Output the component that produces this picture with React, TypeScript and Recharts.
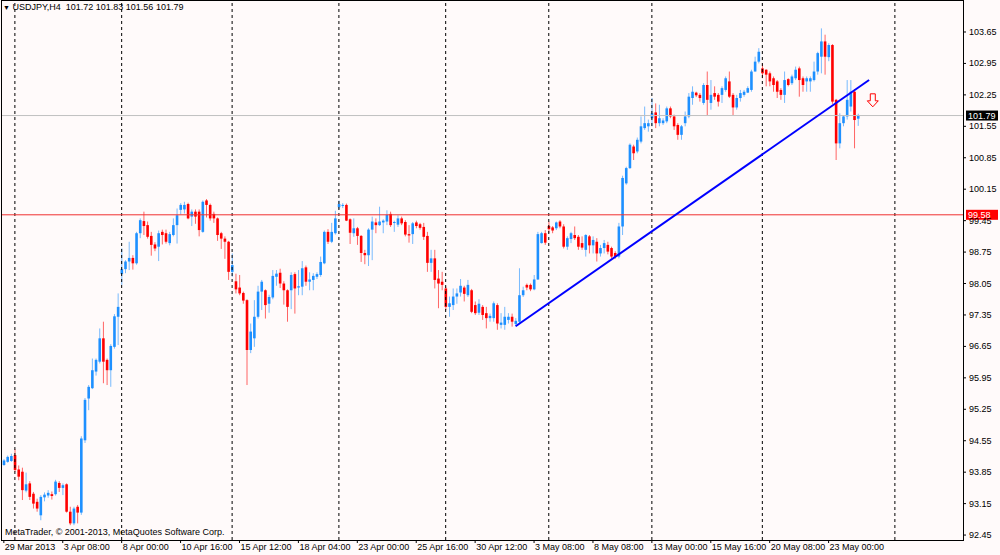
import React from 'react';
import { ComposedChart, Bar, XAxis, YAxis, ReferenceLine, ReferenceDot } from 'recharts';

// USDJPY H4, one entry per candle (29 Mar 2013 .. 23 May 2013)
const opens = [
  94.01, 94.08, 94.10, 94.23, 93.91, 93.86, 93.44, 93.60, 93.37, 93.19, 92.89, 93.29, 93.33, 93.36, 93.36, 93.61,
  93.50, 93.58, 92.97, 92.71, 93.08, 92.95, 94.56, 95.49, 95.72, 96.09, 96.31, 96.83, 96.35, 96.12, 96.64, 97.31,
  98.26, 98.37, 98.54, 98.62, 98.50, 99.17, 99.44, 99.35, 99.11, 98.92, 98.87, 99.20, 99.17, 98.95, 99.13, 99.35,
  99.69, 99.70, 99.82, 99.54, 99.65, 99.65, 99.20, 99.90, 99.80, 99.60, 99.50, 99.17, 99.05, 98.98, 98.31, 98.10,
  97.96, 97.84, 97.68, 96.57, 96.83, 97.31, 97.87, 97.90, 97.60, 97.74, 98.20, 98.29, 98.05, 97.90, 97.90, 98.26,
  97.96, 97.98, 98.41, 98.09, 98.13, 98.20, 98.24, 98.50, 99.20, 98.98, 99.17, 99.75, 99.78, 99.80, 99.48, 99.17,
  99.28, 99.11, 98.73, 98.68, 99.25, 99.41, 99.35, 99.41, 99.43, 99.60, 99.40, 99.36, 99.50, 99.42, 99.15, 99.15,
  99.41, 99.37, 99.31, 99.11, 98.51, 98.61, 98.16, 98.09, 97.94, 97.53, 97.57, 97.76, 97.85, 97.96, 97.79, 97.90,
  97.57, 97.40, 97.53, 97.39, 97.28, 97.28, 97.57, 97.13, 97.13, 97.24, 97.31, 97.15, 97.20, 97.79, 98.02, 98.02,
  97.92, 98.14, 98.95, 99.17, 99.33, 99.30, 99.28, 99.43, 99.32, 98.87, 99.04, 99.13, 99.09, 98.95, 98.80, 99.10,
  98.90, 98.98, 98.72, 98.84, 98.91, 98.84, 98.73, 98.65, 99.32, 100.28, 100.62, 101.10, 100.99, 101.21, 101.51, 101.55,
  101.73, 101.86, 101.62, 101.62, 101.66, 101.95, 101.77, 101.58, 101.36, 101.62, 101.77, 102.18, 102.30, 102.25, 102.07, 102.47,
  102.07, 102.29, 102.25, 102.25, 102.36, 102.55, 102.25, 101.97, 102.18, 102.25, 102.30, 102.36, 102.77, 102.99, 102.84, 102.81,
  102.73, 102.62, 102.55, 102.36, 102.25, 102.60, 102.51, 102.62, 102.84, 102.62, 102.55, 102.55, 102.58, 102.77, 103.10, 103.44,
  103.09, 103.36, 102.14, 101.17, 101.62, 101.77, 101.99, 102.32, 101.72,
];
const highs = [
  94.14, 94.22, 94.26, 94.36, 94.00, 93.95, 93.84, 93.65, 93.41, 93.26, 93.34, 93.40, 93.45, 93.42, 93.68, 93.65,
  93.60, 93.60, 93.08, 93.08, 93.12, 94.65, 95.50, 95.79, 96.38, 96.38, 97.05, 97.20, 96.38, 96.70, 97.37, 97.83,
  98.83, 98.57, 98.98, 98.68, 99.20, 99.50, 99.65, 99.43, 99.20, 98.97, 99.23, 99.25, 99.25, 99.20, 99.50, 99.72,
  99.84, 99.87, 99.85, 99.70, 99.70, 99.70, 99.90, 99.93, 99.83, 99.65, 99.52, 99.20, 99.10, 99.00, 98.72, 98.27,
  98.24, 97.87, 97.70, 97.16, 97.68, 98.00, 98.13, 97.92, 97.80, 98.35, 98.35, 98.38, 98.10, 97.92, 98.30, 98.30,
  98.35, 98.55, 98.45, 98.30, 98.28, 98.30, 98.65, 99.23, 99.26, 99.40, 99.67, 99.90, 99.84, 99.83, 99.50, 99.50,
  99.31, 99.13, 98.80, 99.28, 99.54, 99.50, 99.76, 99.48, 99.68, 99.65, 99.45, 99.57, 99.54, 99.46, 99.35, 99.42,
  99.45, 99.40, 99.40, 99.20, 98.80, 98.80, 98.35, 98.31, 97.98, 97.76, 97.94, 97.94, 98.15, 98.00, 98.13, 97.93,
  97.65, 97.70, 97.57, 97.53, 97.38, 97.65, 97.61, 97.39, 97.53, 97.39, 97.38, 97.28, 98.39, 97.98, 98.05, 98.05,
  98.24, 99.20, 99.20, 99.24, 99.43, 99.33, 99.43, 99.46, 99.37, 99.10, 99.20, 99.32, 99.13, 99.10, 99.15, 99.13,
  99.10, 99.06, 98.91, 99.02, 98.98, 98.87, 98.77, 99.40, 100.45, 100.65, 101.17, 101.14, 101.30, 101.77, 101.99, 101.70,
  102.18, 102.06, 102.03, 101.73, 101.99, 101.99, 101.81, 101.62, 101.58, 101.88, 102.29, 102.44, 102.32, 102.29, 102.51, 102.77,
  102.58, 102.44, 102.29, 102.44, 102.66, 102.77, 102.29, 102.25, 102.36, 102.36, 102.44, 102.81, 103.10, 103.29, 102.95, 102.82,
  102.77, 102.66, 102.58, 102.40, 102.77, 102.62, 102.70, 102.88, 102.88, 102.66, 102.66, 102.66, 102.99, 103.21, 103.73, 103.59,
  103.40, 103.38, 102.16, 101.84, 101.80, 102.58, 102.58, 102.38, 101.83,
];
const lows = [
  93.99, 94.06, 94.08, 93.86, 93.67, 93.23, 93.40, 93.23, 93.04, 92.97, 92.78, 93.20, 93.28, 93.24, 93.33, 93.41,
  93.34, 92.95, 92.67, 92.67, 92.71, 92.90, 94.50, 95.23, 95.70, 96.00, 96.27, 95.83, 95.79, 95.75, 96.60, 96.68,
  98.02, 98.28, 98.35, 98.36, 98.47, 99.06, 99.13, 99.05, 98.67, 98.77, 98.55, 98.92, 98.94, 98.90, 99.10, 98.94,
  99.59, 99.61, 99.48, 99.33, 99.38, 99.10, 99.18, 99.52, 99.45, 99.40, 99.00, 98.82, 98.60, 98.13, 98.20, 97.83,
  97.79, 97.60, 95.79, 96.50, 96.64, 97.27, 97.46, 97.27, 97.40, 97.70, 98.00, 97.95, 97.58, 97.20, 97.48, 97.38,
  97.79, 97.79, 98.00, 97.90, 97.90, 98.15, 98.20, 98.48, 98.93, 98.95, 99.14, 99.70, 99.73, 99.44, 98.93, 99.09,
  98.91, 98.53, 98.48, 98.44, 98.57, 99.17, 99.33, 99.17, 99.35, 99.31, 99.20, 99.31, 99.35, 99.10, 98.96, 98.93,
  99.28, 99.25, 99.02, 98.31, 98.31, 97.94, 97.50, 97.90, 97.46, 97.31, 97.46, 97.60, 97.76, 97.65, 97.75, 97.39,
  97.35, 97.35, 97.24, 97.05, 97.20, 97.20, 97.02, 97.05, 97.02, 97.16, 97.09, 97.10, 97.16, 97.75, 97.90, 97.88,
  97.90, 98.13, 98.94, 98.91, 99.17, 99.17, 99.24, 99.28, 98.83, 98.80, 98.95, 99.02, 98.80, 98.80, 98.65, 98.72,
  98.72, 98.54, 98.65, 98.72, 98.70, 98.61, 98.60, 98.61, 99.13, 100.25, 100.60, 100.80, 100.95, 101.17, 101.47, 101.43,
  101.55, 101.51, 101.55, 101.58, 101.62, 101.73, 101.47, 101.25, 101.25, 101.55, 101.73, 102.03, 102.20, 102.10, 102.03, 101.80,
  101.92, 102.14, 101.99, 102.07, 102.32, 102.18, 101.80, 101.92, 102.10, 102.21, 102.29, 102.32, 102.77, 102.95, 102.62, 102.44,
  102.44, 102.32, 102.18, 102.14, 102.07, 102.44, 102.47, 102.58, 102.21, 102.32, 102.32, 102.32, 102.55, 102.70, 102.73, 102.70,
  103.00, 102.05, 100.80, 101.06, 101.55, 101.70, 101.88, 101.06, 101.56,
];
const closes = [
  94.11, 94.19, 94.21, 93.90, 93.75, 93.45, 93.58, 93.30, 93.15, 93.04, 93.30, 93.35, 93.39, 93.32, 93.64, 93.50,
  93.56, 92.97, 92.71, 93.04, 92.95, 94.60, 95.46, 95.75, 96.12, 96.35, 96.83, 96.31, 96.12, 96.66, 97.32, 97.53,
  98.37, 98.54, 98.62, 98.50, 99.17, 99.46, 99.33, 99.09, 98.91, 98.83, 99.17, 99.13, 98.98, 99.15, 99.35, 99.57,
  99.80, 99.80, 99.50, 99.65, 99.54, 99.24, 99.87, 99.80, 99.50, 99.50, 99.13, 99.05, 98.98, 98.31, 98.46, 97.92,
  97.83, 97.67, 96.57, 96.98, 97.31, 97.87, 98.09, 97.57, 97.75, 98.22, 98.27, 98.05, 97.90, 97.53, 98.24, 97.94,
  97.99, 98.39, 98.09, 98.14, 98.22, 98.26, 98.53, 99.20, 98.98, 99.20, 99.50, 99.82, 99.80, 99.45, 99.18, 99.28,
  99.11, 98.73, 98.68, 99.25, 99.43, 99.35, 99.43, 99.45, 99.58, 99.35, 99.42, 99.50, 99.39, 99.14, 99.12, 99.39,
  99.33, 99.29, 99.09, 98.51, 98.61, 98.13, 98.05, 98.02, 97.53, 97.61, 97.76, 97.83, 98.00, 97.82, 98.02, 97.42,
  97.39, 97.60, 97.35, 97.28, 97.33, 97.61, 97.16, 97.18, 97.31, 97.31, 97.20, 97.22, 97.79, 97.90, 97.96, 97.92,
  98.14, 99.15, 99.17, 98.96, 99.26, 99.23, 99.41, 99.32, 98.87, 99.06, 99.17, 99.06, 98.87, 98.85, 99.13, 98.90,
  99.02, 98.72, 98.84, 98.95, 98.76, 98.65, 98.65, 99.32, 100.40, 100.62, 101.14, 100.95, 101.25, 101.55, 101.62, 101.62,
  101.84, 101.62, 101.73, 101.68, 101.95, 101.77, 101.55, 101.36, 101.55, 101.77, 102.21, 102.32, 102.24, 102.18, 102.47, 102.14,
  102.25, 102.21, 102.10, 102.40, 102.62, 102.21, 101.97, 102.18, 102.29, 102.32, 102.40, 102.77, 102.99, 103.21, 102.73, 102.70,
  102.55, 102.47, 102.32, 102.25, 102.58, 102.47, 102.66, 102.81, 102.58, 102.47, 102.62, 102.62, 102.77, 103.18, 103.44, 103.10,
  103.36, 102.10, 101.17, 101.62, 101.77, 102.14, 102.32, 101.69, 101.79,
];

const timeLabels = [
  '29 Mar 2013', '3 Apr 08:00', '8 Apr 00:00', '10 Apr 16:00', '15 Apr 12:00', '18 Apr 04:00', '23 Apr 00:00',
  '25 Apr 16:00', '30 Apr 12:00', '3 May 08:00', '8 May 08:00', '13 May 00:00', '15 May 16:00', '20 May 08:00',
  '23 May 00:00',
];
const labelEvery = 16;
const weekStarts = [3, 32, 62, 91, 120, 148, 176, 206, 242];
const priceTicks = [
  92.45, 93.15, 93.85, 94.55, 95.25, 95.95, 96.65, 97.35, 98.05, 98.75, 99.45, 100.15, 100.85, 101.55, 102.25,
  102.95, 103.65,
];
const slotCount = 261; // bars + empty shift area on the right
const bidPrice = 101.79;
const levelPrice = 99.58;
const trendLine = [{ x: 139, y: 97.1 }, { x: 235, y: 102.58 }];
const arrowAt = { x: 236, y: 102.14 };

const data = Array.from({ length: slotCount }, (_, i) =>
  i < opens.length
    ? { i, o: opens[i], h: highs[i], l: lows[i], c: closes[i], range: [lows[i], highs[i]] }
    : { i, range: null }
);

const FONT = '"Liberation Sans", Arial, sans-serif';
const BLUE = '#1e90ff';
const RED = '#ff0000';

const Candle = (props: any) => {
  const { x, y, width, height, payload } = props;
  if (!payload || payload.o == null) return null;
  const { o, h, l, c } = payload;
  const top0 = Math.min(y, y + height);
  const hh = Math.abs(height);
  const k = h > l ? hh / (h - l) : 0;
  const cx = x + width / 2;
  const top = top0 + (h - Math.max(o, c)) * k;
  const bot = top0 + (h - Math.min(o, c)) * k;
  const col = c >= o ? BLUE : RED;
  return (
    <g>
      <line x1={cx} x2={cx} y1={top0} y2={top0 + hh} stroke={col} strokeOpacity={0.6} strokeWidth={1} />
      <rect x={cx - 1.3} y={top} width={2.6} height={Math.max(bot - top, 1)} fill={col} />
    </g>
  );
};

const TimeTick = (props: any) => {
  const { x, y, payload } = props;
  const idx = payload.value;
  if (idx % labelEvery !== 0) return null;
  const label = timeLabels[idx / labelEvery];
  if (!label) return null;
  return (
    <g>
      <line x1={x} x2={x} y1={y} y2={y + 3} stroke="#000" />
      <text x={x + 1} y={y + 10} fontSize={9} fontFamily={FONT} fill="#000" textAnchor="start">
        {label}
      </text>
    </g>
  );
};

const PriceTick = (props: any) => {
  const { x, y, payload } = props;
  return (
    <g>
      <line x1={x} x2={x + 3} y1={y} y2={y} stroke="#000" />
      <text x={x + 6} y={y + 3} fontSize={9} fontFamily={FONT} fill="#000" textAnchor="start">
        {payload.value.toFixed(2)}
      </text>
    </g>
  );
};

const priceTag = (value: number, bg: string) => (props: any) => {
  const vb = props.viewBox || {};
  const x = vb.x + vb.width + 3;
  const y = vb.y;
  return (
    <g>
      <rect x={x} y={y - 5} width={32} height={10} fill={bg} />
      <text x={x + 2} y={y + 3.5} fontSize={9} fontFamily={FONT} fill="#fff" textAnchor="start">
        {value.toFixed(2)}
      </text>
    </g>
  );
};

const DownArrow = (props: any) => {
  const { cx, cy } = props;
  const d = `M${cx - 2.5},${cy - 6} L${cx + 2.5},${cy - 6} L${cx + 2.5},${cy + 1} L${cx + 5.5},${cy + 1} L${cx},${cy + 7} L${cx - 5.5},${cy + 1} L${cx - 2.5},${cy + 1} Z`;
  return <path d={d} fill="#fffafa" stroke={RED} strokeWidth={1} />;
};

export default function App() {
  return (
    <div style={{ position: 'fixed', left: 0, top: 0, width: 1000, height: 555, background: '#fffafa' }}>
      <ComposedChart
        width={1000}
        height={555}
        data={data}
        margin={{ top: 1, right: 0, bottom: 0, left: 2 }}
        barCategoryGap={0}
        barGap={0}
      >
        <XAxis
          dataKey="i"
          type="category"
          height={15}
          interval={0}
          axisLine={false}
          tickLine={false}
          tickSize={0}
          tickMargin={0}
          tick={<TimeTick />}
        />
        <YAxis
          orientation="right"
          width={37}
          type="number"
          domain={[92.34, 104.34]}
          allowDataOverflow
          ticks={priceTicks}
          axisLine={false}
          tickLine={false}
          tickSize={0}
          tickMargin={0}
          tick={<PriceTick />}
        />
        {weekStarts.map((w) => (
          <ReferenceLine key={w} x={w} stroke="#000" strokeDasharray="3 3" />
        ))}
        <ReferenceLine y={bidPrice} stroke="#c0c0c0" label={priceTag(bidPrice, '#000')} />
        <ReferenceLine y={levelPrice} stroke="#f03030" label={priceTag(levelPrice, RED)} />
        <Bar dataKey="range" shape={<Candle />} isAnimationActive={false} />
        <ReferenceLine segment={trendLine} stroke="#0000ff" strokeWidth={2} />
        <ReferenceDot x={arrowAt.x} y={arrowAt.y} r={6} shape={<DownArrow />} />
      </ComposedChart>
      <div
        style={{
          position: 'absolute', left: 1, top: 0, width: 963, height: 541, boxSizing: 'border-box',
          border: '1px solid #000', pointerEvents: 'none',
        }}
      />
      <div style={{ position: 'absolute', left: 3, top: 2, fontFamily: FONT, fontSize: 9, color: '#000', whiteSpace: 'pre' }}>
        <span style={{ fontSize: 7 }}>▼</span>
        {' USDJPY,H4  101.72 101.83 101.56 101.79'}
      </div>
      <div style={{ position: 'absolute', left: 5, top: 527, fontFamily: FONT, fontSize: 9, color: '#000', whiteSpace: 'pre' }}>
        MetaTrader, © 2001-2013, MetaQuotes Software Corp.
      </div>
    </div>
  );
}
